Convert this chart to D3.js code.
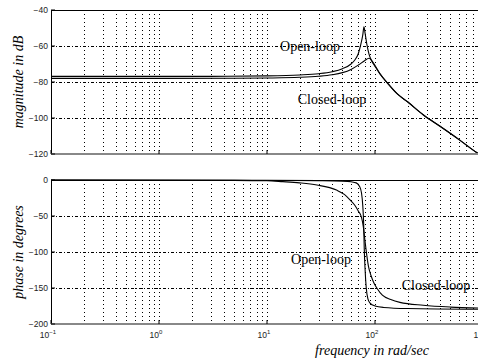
<!DOCTYPE html>
<html>
<head>
<meta charset="utf-8">
<script src="https://cdn.jsdelivr.net/npm/d3@7"></script>
<style>
body { margin: 0; background: #fff; }
svg { display: block; }
.tick-lbl { font-family: "Liberation Sans", Arial, sans-serif; font-size: 8.5px; fill: #222; }
.ttl { font-family: "Liberation Serif", "Times New Roman", serif; font-style: italic; font-size: 14px; fill: #000; }
.note { font-family: "Liberation Serif", "Times New Roman", serif; font-size: 14px; fill: #000; }
</style>
</head>
<body>
<script>
// frequency decades shown on the x axis
var decades = [0.1, 1, 10, 100, 1000];
var magTicks = [-40, -60, -80, -100, -120];
var phaseTicks = [0, -50, -100, -150, -200];

// magnitude (dB)
var openMagW = [0.1, 1, 3, 10, 20, 30, 40, 50, 60, 65, 70, 74, 77, 79, 81, 84, 88, 93, 100, 111, 130, 160, 200, 281, 400, 600, 872, 1000];
var openMag  = [-76.9, -76.9, -76.85, -76.6, -76.1, -75.4, -74.3, -72.6, -70, -67.8, -64.3, -59, -54, -49.4, -53, -59, -64.5, -68.2, -71.3, -75.5, -80.5, -86.5, -91, -98.3, -104.6, -112, -119.2, -121.5];
var closedMagW = [0.1, 1, 5, 10, 20, 30, 40, 50, 60, 70, 80, 88, 93, 100, 111, 130, 160, 200, 281, 400, 600, 872, 1000];
var closedMag  = [-78, -78, -77.95, -77.8, -77.4, -76.8, -76, -74.8, -73, -70.6, -68.2, -66.8, -68, -70.8, -75.3, -80.5, -86.5, -91, -98.3, -104.6, -112, -119.2, -121.5];

// phase (degrees)
var openPhW = [0.1, 10, 30, 50, 60, 67, 72, 75, 77, 78.5, 79.5, 81, 83, 86, 90, 100, 120, 200, 1000];
var openPh  = [0, -0.3, -0.8, -1.5, -2.5, -4, -9, -18, -35, -60, -95, -125, -150, -165, -171, -175, -177, -178.5, -179.5];
var closedPhW = [0.1, 5, 10, 14, 20, 29, 44, 52, 59, 65, 70, 75, 78, 81, 84, 87, 92, 97, 105, 117, 140, 170, 280, 500, 1000];
var closedPh  = [0, -0.5, -1, -2.3, -4, -7, -14, -20, -28, -35, -43, -52, -65, -86, -105, -120, -133, -142, -151, -160, -166, -170, -174, -176.5, -178];

var W = 478, H = 362;
var svg = d3.select("body").append("svg").attr("width", W).attr("height", H);

var x = d3.scaleLog().domain([0.1, 1000]).range([51, 483]);

svg.append("clipPath").attr("id", "clip")
  .append("rect").attr("x", 0).attr("y", 0).attr("width", W).attr("height", H);

// minor grid positions 1..9 x decade
var gridW = [];
decades.slice(0, -1).forEach(function(d) {
  for (var k = 1; k <= 9; k++) gridW.push(d * k);
});

function panel(top, bottom, domain, ticks, series, title) {
  var y = d3.scaleLinear().domain(domain).range([bottom, top]);
  var g = svg.append("g").attr("clip-path", "url(#clip)");

  // vertical dotted grid
  g.selectAll(".vg").data(gridW.filter(function(w) { return w > 0.1; }))
    .enter().append("line")
    .attr("x1", function(d) { return Math.round(x(d)) + 0.5; })
    .attr("x2", function(d) { return Math.round(x(d)) + 0.5; })
    .attr("y1", top).attr("y2", bottom)
    .attr("stroke", "#000").attr("stroke-width", 1)
    .attr("stroke-dasharray", "1,3");

  // horizontal dash-dot grid
  g.selectAll(".hg").data(ticks.slice(1, -1))
    .enter().append("line")
    .attr("x1", x(0.1)).attr("x2", x(1000))
    .attr("y1", function(d) { return Math.round(y(d)) + 0.5; })
    .attr("y2", function(d) { return Math.round(y(d)) + 0.5; })
    .attr("stroke", "#000").attr("stroke-width", 1)
    .attr("stroke-dasharray", "3,2,1,2");

  // curves
  var line = d3.line()
    .x(function(d) { return x(d[0]); })
    .y(function(d) { return y(d[1]); })
    .curve(d3.curveMonotoneX);
  series.forEach(function(s) {
    g.append("path")
      .attr("d", line(d3.zip(s[0], s[1])))
      .attr("fill", "none").attr("stroke", "#000").attr("stroke-width", 1.1);
  });

  // frame: top and left black, bottom gray
  g.append("line").attr("x1", x(0.1)).attr("x2", x(1000))
    .attr("y1", top + 0.5).attr("y2", top + 0.5).attr("stroke", "#000");
  g.append("line").attr("x1", x(0.1) + 0.5).attr("x2", x(0.1) + 0.5)
    .attr("y1", top).attr("y2", bottom).attr("stroke", "#000");
  g.append("line").attr("x1", x(0.1)).attr("x2", x(1000))
    .attr("y1", bottom).attr("y2", bottom).attr("stroke", "#888").attr("stroke-width", 2);

  // y tick marks + labels
  g.selectAll(".yt").data(ticks).enter().append("line")
    .attr("x1", x(0.1)).attr("x2", x(0.1) + 4)
    .attr("y1", function(d) { return y(d); }).attr("y2", function(d) { return y(d); })
    .attr("stroke", "#000");
  svg.selectAll(null).data(ticks).enter().append("text")
    .attr("class", "tick-lbl")
    .attr("x", x(0.1) - 3)
    .attr("y", function(d) { return y(d) + 3; })
    .attr("text-anchor", "end")
    .text(function(d) { return d === 0 ? "0" : "\u2212" + Math.abs(d); });

  // x tick marks
  g.selectAll(".xt").data(decades).enter().append("line")
    .attr("x1", function(d) { return x(d); }).attr("x2", function(d) { return x(d); })
    .attr("y1", bottom).attr("y2", bottom - 4)
    .attr("stroke", "#000");

  svg.append("text").attr("class", "ttl")
    .attr("transform", "translate(23," + ((top + bottom) / 2) + ") rotate(-90)")
    .attr("text-anchor", "middle")
    .text(title);
  return y;
}

var yMag = panel(10, 154, [-120, -40], magTicks,
  [[openMagW, openMag], [closedMagW, closedMag]], "magnitude in dB");
var yPh = panel(180, 324, [-200, 0], phaseTicks,
  [[openPhW, openPh], [closedPhW, closedPh]], "phase in degrees");

// x tick labels (bottom panel)
var xl = svg.selectAll(".xl").data(decades).enter().append("text")
  .attr("class", "tick-lbl")
  .attr("x", function(d) { return x(d) - 3; })
  .attr("y", 338)
  .attr("text-anchor", "middle");
xl.append("tspan").text("10");
xl.append("tspan").attr("dy", -4).attr("font-size", "6px")
  .text(function(d) { var e = Math.round(Math.log10(d)); return e < 0 ? "\u2212" + Math.abs(e) : e; });

svg.append("text").attr("class", "ttl")
  .attr("x", 372).attr("y", 355).attr("text-anchor", "middle")
  .text("frequency in rad/sec");

// curve labels
svg.append("text").attr("class", "note").attr("x", 310).attr("y", 51)
  .attr("text-anchor", "middle").text("Open-loop");
svg.append("text").attr("class", "note").attr("x", 332).attr("y", 104)
  .attr("text-anchor", "middle").text("Closed-loop");
svg.append("text").attr("class", "note").attr("x", 321).attr("y", 264)
  .attr("text-anchor", "middle").text("Open-loop");
svg.append("text").attr("class", "note").attr("x", 436).attr("y", 290)
  .attr("text-anchor", "middle").text("Closed-loop");
</script>
</body>
</html>
